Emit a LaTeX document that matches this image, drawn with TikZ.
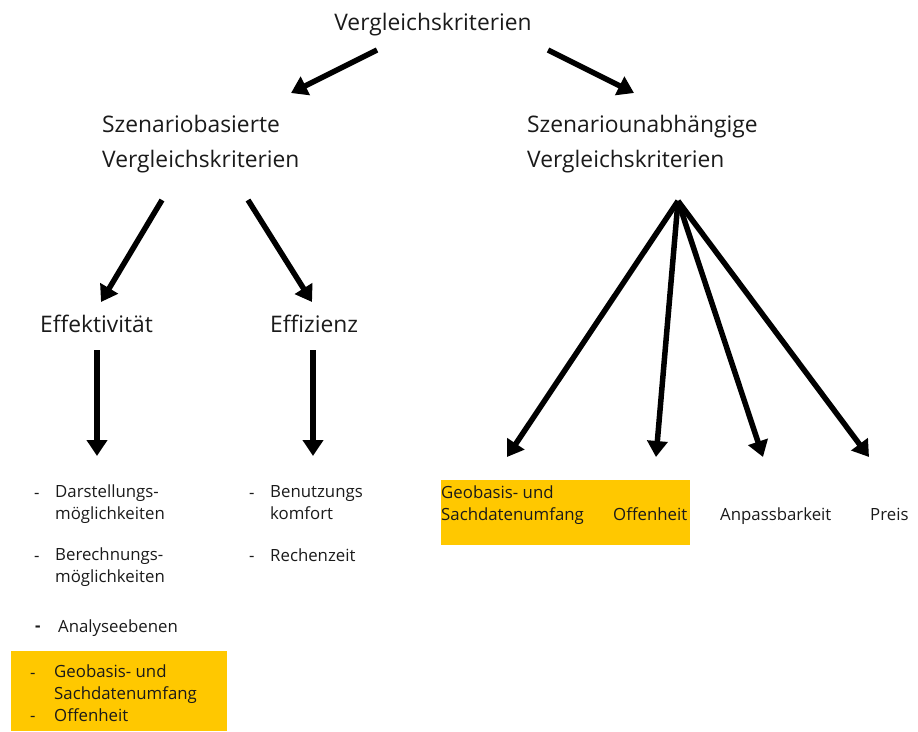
\documentclass[tikz,border=0pt]{standalone}
\usepackage{fontspec}
\setmainfont{Open Sans}
\usetikzlibrary{arrows.meta}
\definecolor{txt}{HTML}{1A1A1A}
\definecolor{hl}{HTML}{FFC800}
\tikzset{
  big/.style={font=\fontsize{22.8}{35}\selectfont, text=txt, inner sep=0pt, align=left},
  small/.style={font=\fontsize{16.8}{21.5}\selectfont, text=txt, inner sep=0pt, align=left},
  arr/.style={line width=5.5pt, -{Triangle[width=20pt,length=16pt]}},
}
\begin{document}
\begin{tikzpicture}[x=1pt,y=-1pt]
\useasboundingbox (0,0) rectangle (918,731);
% highlight boxes
\fill[hl] (11,651) rectangle (227,731);
\fill[hl] (441,480) rectangle (690,545);
% headings
\node[big, anchor=base] (root) at (433,30) {Vergleichskriterien};
\node[big, anchor=base west] (sb1) at (102,132) {Szenariobasierte};
\node[big, anchor=base west] (sb2) at (102,167) {Vergleichskriterien};
\node[big, anchor=base west] (su1) at (527,132) {Szenariounabhängige};
\node[big, anchor=base west] (su2) at (527,167) {Vergleichskriterien};
\node[big, anchor=base west] (eff) at (40,332) {Effektivität};
\node[big, anchor=base west] (ezi) at (270,332) {Effizienz};
% arrow coordinates
\coordinate (a1s) at (377,50); \coordinate (a1e) at (291,93);
\coordinate (a2s) at (548,50); \coordinate (a2e) at (634,93);
\coordinate (b1s) at (162,200); \coordinate (b1e) at (101,302);
\coordinate (b2s) at (248,200); \coordinate (b2e) at (312,302);
\coordinate (c1s) at (97,350); \coordinate (c1e) at (97,456);
\coordinate (c2s) at (313,350); \coordinate (c2e) at (313,456);
\coordinate (apex) at (678,201);
\coordinate (f1) at (507,457); \coordinate (f2) at (656,457);
\coordinate (f3) at (763,457); \coordinate (f4) at (869,457);
\draw[arr] (a1s) -- (a1e);
\draw[arr] (a2s) -- (a2e);
\draw[arr] (b1s) -- (b1e);
\draw[arr] (b2s) -- (b2e);
\draw[arr] (c1s) -- (c1e);
\draw[arr] (c2s) -- (c2e);
\draw[arr] (apex) -- (f1);
\draw[arr] (apex) -- (f2);
\draw[arr] (apex) -- (f3);
\draw[arr] (apex) -- (f4);
% left list
\node[small, anchor=base west] (d1) at (34,498) {-};
\node[small, anchor=base west] (l1) at (55,519) {Darstellungs-\\möglichkeiten};
\node[small, anchor=base west] (d2) at (34,561) {-};
\node[small, anchor=base west] (l2) at (55,582) {Berechnungs-\\möglichkeiten};
\node[small, anchor=base west, font=\fontsize{16.8}{21}\bfseries] (d3) at (35,631) {-};
\node[small, anchor=base west] (l3) at (58,632) {Analyseebenen};
\node[small, anchor=base west] (d4) at (30,678) {-};
\node[small, anchor=base west] (l4) at (54,699) {Geobasis- und\\Sachdatenumfang};
\node[small, anchor=base west] (d5) at (30,721) {-};
\node[small, anchor=base west] (l5) at (54,721) {Offenheit};
% middle list
\node[small, anchor=base west] (m1d) at (249,498) {-};
\node[small, anchor=base west] (m1) at (270,519) {Benutzungs\\komfort};
\node[small, anchor=base west] (m2d) at (249,561) {-};
\node[small, anchor=base west] (m2) at (270,561) {Rechenzeit};
% right items
\node[small, anchor=base west] (r1) at (441,520) {Geobasis- und\\Sachdatenumfang};
\node[small, anchor=base west] (r2) at (613,520) {Offenheit};
\node[small, anchor=base west] (r3) at (720,520) {Anpassbarkeit};
\node[small, anchor=base west] (r4) at (870,520) {Preis};
\end{tikzpicture}
\end{document}
